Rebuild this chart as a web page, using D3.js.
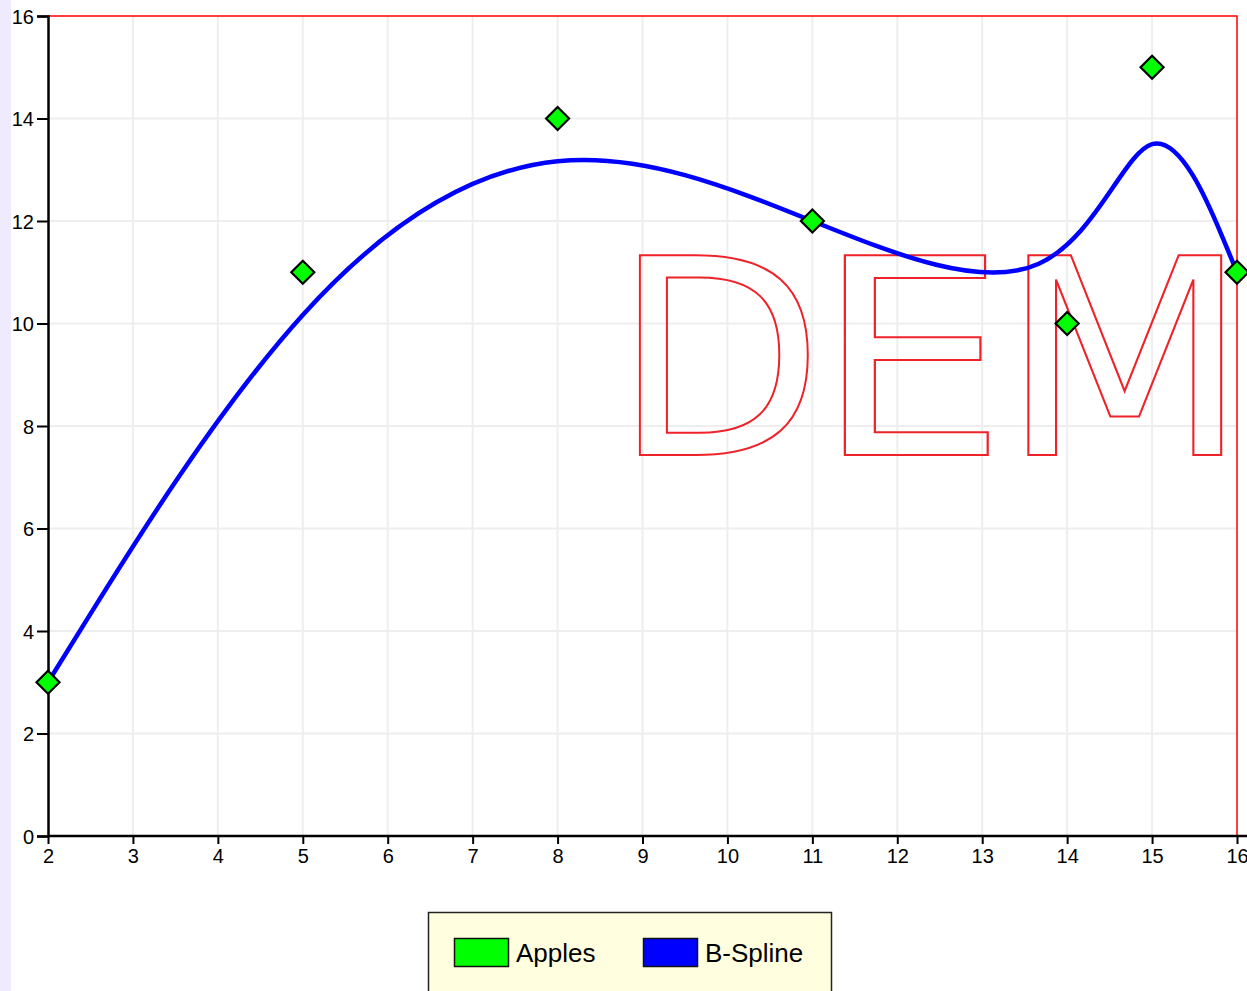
<!DOCTYPE html>
<html>
<head>
<meta charset="utf-8">
<script src="https://cdn.jsdelivr.net/npm/d3@7"></script>
<style>
  body { margin: 0; background: #fff; }
  svg { display: block; }
</style>
</head>
<body>
<svg id="chart"></svg>
<script>
// data
const xs = [2, 5, 8, 11, 14, 15, 16];
const apples = [3, 11, 14, 12, 10, 15, 11];
const xTicks = [2, 3, 4, 5, 6, 7, 8, 9, 10, 11, 12, 13, 14, 15, 16];
const yTicks = [0, 2, 4, 6, 8, 10, 12, 14, 16];
const seriesNames = ["Apples", "B-Spline"];
const seriesColors = ["#00ff00", "#0000ff"];

const width = 1247, height = 991;
const plotLeft = 48, plotRight = 1237, plotTop = 16, plotBottom = 836;
const labelFont = "Liberation Sans, Arial, sans-serif";

let svg = d3.select("#chart").attr("width", width).attr("height", height);

svg.append("rect").attr("x", 0).attr("y", 0).attr("width", 11).attr("height", height).attr("fill", "#efeafd");

let xScale = d3.scaleLinear().domain([2, 16]).range([plotLeft, plotRight]);
let yScale = d3.scaleLinear().domain([0, 16]).range([plotBottom, plotTop]);

// grid
svg.append("g").selectAll("line")
  .data(xTicks.slice(1, -1))
  .join("line")
  .attr("x1", d => xScale(d)).attr("x2", d => xScale(d))
  .attr("y1", plotTop).attr("y2", plotBottom)
  .attr("stroke", "#eeeeee").attr("stroke-width", 2);
svg.append("g").selectAll("line")
  .data(yTicks.slice(1, -1))
  .join("line")
  .attr("x1", plotLeft).attr("x2", plotRight)
  .attr("y1", d => yScale(d)).attr("y2", d => yScale(d))
  .attr("stroke", "#eeeeee").attr("stroke-width", 2);

// watermark clipped to plot, letters placed one by one
svg.append("clipPath").attr("id", "plotClip")
  .append("rect").attr("x", plotLeft).attr("y", plotTop).attr("width", plotRight - plotLeft).attr("height", plotBottom - plotTop);
let mark = svg.append("g").attr("clip-path", "url(#plotClip)");
let letters = [["D", 613, 1], ["E", 815, 1.11], ["M", 1000, 1.055], ["O", 1248, 1]];
letters.forEach(([ch, x, sx]) => {
  mark.append("text")
    .attr("transform", `translate(${x},455) scale(${sx},1)`)
    .attr("font-family", "DejaVu Sans")
    .attr("font-size", 274)
    .attr("fill", "none")
    .attr("stroke", "#ee2228")
    .attr("stroke-width", 2)
    .text(ch);
});

// red frame top / right
svg.append("path")
  .attr("d", `M${plotLeft},${plotTop}H${plotRight}V${plotBottom}`)
  .attr("fill", "none").attr("stroke", "#ff0000").attr("stroke-width", 1.5);

// axes
let xAxis = svg.append("g")
  .attr("transform", `translate(0,${plotBottom})`)
  .call(d3.axisBottom(xScale).tickValues(xTicks).tickFormat(d3.format("d")).tickSizeOuter(0).tickSize(8));
xAxis.select(".domain").attr("d", `M${plotLeft},0H${width}`).attr("stroke-width", 2.5);
xAxis.selectAll(".tick line").attr("stroke-width", 2);
xAxis.selectAll(".tick text").attr("font-family", labelFont).attr("font-size", 20).attr("dy", null).attr("y", 27);

let yAxis = svg.append("g")
  .attr("transform", `translate(${plotLeft},0)`)
  .call(d3.axisLeft(yScale).tickValues(yTicks).tickFormat(d3.format("d")).tickSizeOuter(0).tickSize(11));
yAxis.select(".domain").attr("stroke-width", 2.5);
yAxis.selectAll(".tick line").attr("stroke-width", 2);
yAxis.selectAll(".tick text").attr("font-family", labelFont).attr("font-size", 20).attr("x", -14).attr("dy", "0.35em");

// B-spline through apples control points
let pts = xs.map((x, i) => [x, apples[i]]);
let line = d3.line()
  .x(d => xScale(d[0]))
  .y(d => yScale(d[1]))
  .curve(d3.curveBasis);
svg.append("path")
  .attr("d", line(pts))
  .attr("fill", "none")
  .attr("stroke", seriesColors[1])
  .attr("stroke-width", 4.5)
  .attr("stroke-linejoin", "round");

// markers
svg.append("g").selectAll("path")
  .data(pts)
  .join("path")
  .attr("transform", d => `translate(${xScale(d[0])},${yScale(d[1])})`)
  .attr("d", "M0,-11.5L11.5,0L0,11.5L-11.5,0Z")
  .attr("fill", seriesColors[0])
  .attr("stroke", "#000")
  .attr("stroke-width", 2.2);

// legend
let legend = svg.append("g");
legend.append("rect")
  .attr("x", 428.5).attr("y", 912.5).attr("width", 403).attr("height", 100)
  .attr("fill", "#ffffe0").attr("stroke", "#222").attr("stroke-width", 1.5);
let legendX = [454, 643];
seriesNames.forEach((name, i) => {
  legend.append("rect")
    .attr("x", legendX[i] + 0.5).attr("y", 938.5).attr("width", 54).attr("height", 28)
    .attr("fill", seriesColors[i]).attr("stroke", "#111").attr("stroke-width", 1.5);
  legend.append("text")
    .attr("x", legendX[i] + 62).attr("y", 962)
    .attr("font-family", labelFont)
    .attr("font-size", 26)
    .attr("fill", "#000")
    .text(name);
});
</script>
</body>
</html>
